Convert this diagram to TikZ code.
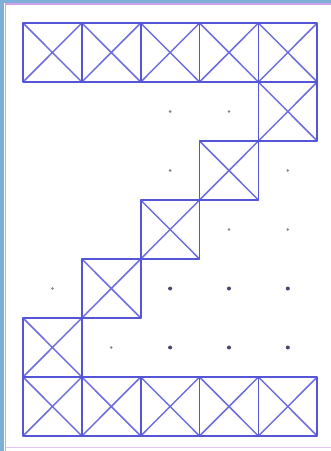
\documentclass[tikz,border=0pt]{standalone}
\definecolor{frameblue}{RGB}{125,175,215}
\definecolor{framepink}{RGB}{205,160,235}
\definecolor{gridblue}{RGB}{85,85,215}
\definecolor{dotdark}{RGB}{70,70,110}
\definecolor{dotlight}{RGB}{130,130,155}
\tikzset{
  cellline/.style={draw=gridblue, line width=1.8pt, line join=round},
  diagline/.style={draw=gridblue!85!white, line width=1.5pt},
  darkdot/.style={fill=dotdark},
  lightdot/.style={fill=dotlight}
}
\begin{document}
\begin{tikzpicture}[x=1pt,y=-1pt]
\useasboundingbox (0,0) rectangle (331,451);
\fill[white] (0,0) rectangle (331,451);
\fill[frameblue] (0,0) rectangle (4,451);
\fill[frameblue] (0,0) rectangle (331,2.5);
\draw[framepink, line width=1.8pt] (5.5,451) -- (5.5,4) -- (331,4);
\draw[framepink!60!white, line width=1pt] (5.5,447.5) -- (331,447.5);
\begin{scope}[shift={(23,23)}, x=58.85pt, y=-59pt]
  \foreach \c/\r in {0/0,1/0,2/0,3/0,4/0,4/1,3/2,2/3,1/4,0/5,0/6,1/6,2/6,3/6,4/6}{
    \path[diagline] (\c,\r) -- (\c+1,\r+1) (\c+1,\r) -- (\c,\r+1);
    \path[cellline] (\c,\r) rectangle (\c+1,\r+1);
  }
  \foreach \c/\r in {2/1,3/1,2/2,4/2,3/3,4/3,0/4,1/5}{
    \fill[lightdot] (\c+0.5,\r+0.5) circle (1.4pt);
  }
  \foreach \c/\r in {2/4,3/4,4/4,2/5,3/5,4/5}{
    \fill[darkdot] (\c+0.5,\r+0.5) circle (2pt);
  }
\end{scope}
\end{tikzpicture}
\end{document}
